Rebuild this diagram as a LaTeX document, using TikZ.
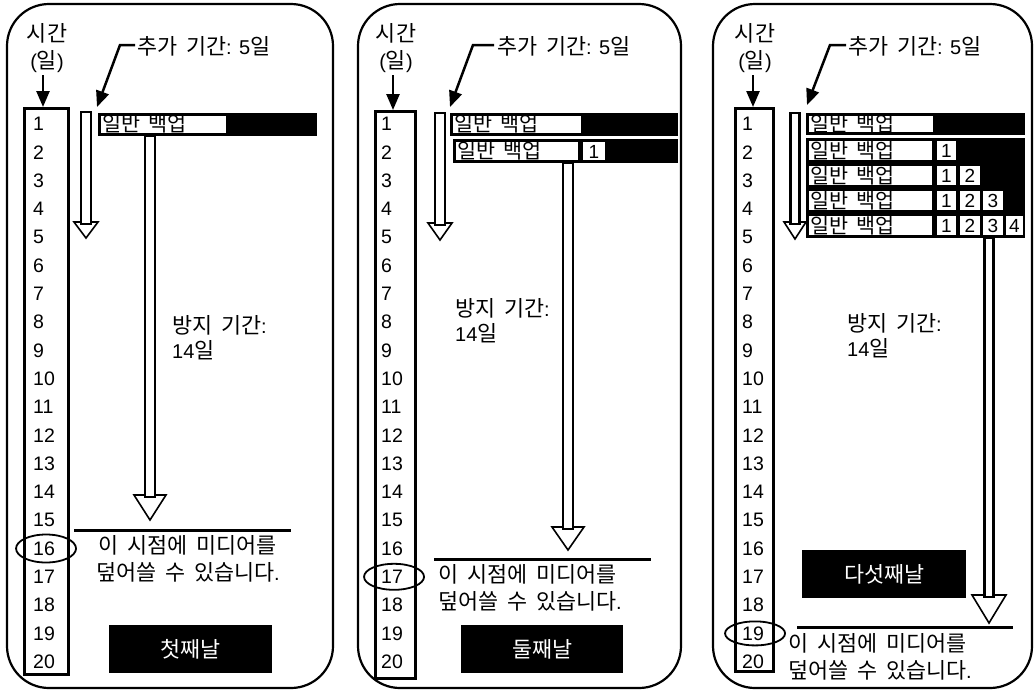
\documentclass[tikz,border=0pt]{standalone}
\usepackage{fontspec}
\setmainfont{Liberation Sans}
\newfontfamily\kr[Scale=1.09,WordSpace=1.8]{Noto Sans CJK KR}
\usetikzlibrary{arrows.meta}
\newcommand{\K}[1]{{\kr #1}}
% hollow arrow: cx, ytop, ybase, half shaft, half head, ytip
\newcommand{\hollowarrow}[6]{%
  \draw[line width=1.6pt, fill=white, line join=miter] (#1-#5,#3) -- (#1+#5,#3) -- (#1,#6) -- cycle;
  \draw[line width=2.6pt, fill=white] (#1-#4,#2) rectangle (#1+#4,#3+2);
}
% bar: x0, y0, x1, y1, xwhite-end
\newcommand{\bkbar}[5]{%
  \fill[black] (#1,#2) rectangle (#3,#4);
  \fill[white] (#1+3,#2+3) rectangle (#5,#4-3);
}
% cell: x0, x1, y0, y1, digit
\newcommand{\bkcell}[5]{%
  \fill[white] (#1,#3+3) rectangle (#2,#4-3);
  \node[inner sep=0, font=\fontsize{19}{22}\selectfont] at ({(#1+#2)/2},{(#3+#4)/2+0.5}) {#5};
}
\begin{document}
\begin{tikzpicture}[x=1pt,y=-1pt,
  panel/.style={draw, line width=2.2pt, rounded corners=42pt},
  colbox/.style={draw, line width=3pt, anchor=north west, inner sep=0},
  num/.style={anchor=west, inner sep=0, font=\fontsize{19.5}{22}\selectfont},
  txt/.style={inner sep=0, font=\fontsize{20}{27}\selectfont},
  ptr/.style={line width=2.5pt, -{Triangle[length=16pt,width=13pt]}},
  sepline/.style={line width=3pt},
  ring/.style={line width=1.8pt},
  daybox/.style={fill=black, text=white, anchor=north west, inner sep=0, font=\fontsize{20}{22}\selectfont},
  bartxt/.style={anchor=west, inner sep=0, font=\fontsize{19}{22}\selectfont}]
\useasboundingbox (0,0) rectangle (1035,691);

% ---------- panels ----------
\draw[panel] (7,4) rectangle (333,688);
\draw[panel] (358,4) rectangle (681,688);
\draw[panel] (713,4) rectangle (1032,688);

% ---------- columns ----------
\node[colbox, minimum width=44, minimum height=566] (col1) at (23,107) {};
\node[colbox, minimum width=40, minimum height=567] (col2) at (374,110) {};
\node[colbox, minimum width=38, minimum height=563] (col3) at (734,107) {};
\foreach \k in {1,...,20}{
  \node[num] (na\k) at (33,{124+28.3*(\k-1)}) {\k};
  \node[num] (nb\k) at (381,{124+28.3*(\k-1)}) {\k};
  \node[num] (nc\k) at (742,{124+28.3*(\k-1)}) {\k};
}

% ---------- time labels ----------
\node[txt, align=center] (t1) at (47,48.5) {\K{시간}\\(\K{일})};
\node[txt, align=center] (t2) at (396,48.5) {\K{시간}\\(\K{일})};
\node[txt, align=center] (t3) at (755,48.5) {\K{시간}\\(\K{일})};
\coordinate (ta1) at (43,75);
\coordinate (ta2) at (393,75);
\coordinate (ta3) at (753,75);
\draw[ptr] (ta1) -- (ta1 |- col1.north);
\draw[ptr] (ta2) -- (ta2 |- col2.north);
\draw[ptr] (ta3) -- (ta3 |- col3.north);

% ---------- extra period labels ----------
\node[txt, anchor=west] (e1) at (137,46) {\K{추가 기간}: 5\K{일}};
\node[txt, anchor=west] (e2) at (497,46) {\K{추가 기간}: 5\K{일}};
\node[txt, anchor=west] (e3) at (848,46) {\K{추가 기간}: 5\K{일}};
\coordinate (k1) at (120,45); \coordinate (h1) at (97,107);
\coordinate (k2) at (473,45); \coordinate (h2) at (450,107);
\coordinate (k3) at (830,45); \coordinate (h3) at (807,105);
\draw[ptr] (e1.west |- k1) ++(-2,0) -- (k1) -- (h1);
\draw[ptr] (e2.west |- k2) ++(-3,0) -- (k2) -- (h2);
\draw[ptr] (e3.west |- k3) ++(-2,0) -- (k3) -- (h3);

% ---------- extra period hollow arrows ----------
\hollowarrow{86}{112}{222}{5}{12}{238}
\hollowarrow{440}{113}{223}{5}{12}{240}
\hollowarrow{795}{113}{222}{4.5}{11}{239}

% ---------- panel 1 bars ----------
\bkbar{98}{113}{317}{136}{226}
\node[bartxt] (g1a) at (102,124) {\K{일반 백업}};
\hollowarrow{150}{136}{495}{5}{16}{520}

% ---------- panel 2 bars ----------
\bkbar{450}{113}{678}{136}{581}
\node[bartxt] (g2a) at (454,124) {\K{일반 백업}};
\bkbar{453}{139}{678}{163}{578}
\node[bartxt] (g2b) at (457,151) {\K{일반 백업}};
\bkcell{583}{605}{139}{163}{1}
\hollowarrow{568}{163}{527}{5}{16}{550}

% ---------- panel 3 bars ----------
\bkbar{806}{113}{1025}{135}{933}
\node[bartxt] (g3a) at (810,124) {\K{일반 백업}};
\fill[black] (806,138) rectangle (1025,238);
\foreach \yt/\yb in {138/163,163/188,188/213,213/238}{
  \fill[white] (809,\yt+3) rectangle (932,\yb-3);
  \node[bartxt] at (810,{(\yt+\yb)/2}) {\K{일반 백업}};
}
\bkcell{937}{956}{138}{163}{1}
\bkcell{937}{956}{163}{188}{1}
\bkcell{960}{980}{163}{188}{2}
\bkcell{937}{956}{188}{213}{1}
\bkcell{960}{980}{188}{213}{2}
\bkcell{983}{1003}{188}{213}{3}
\bkcell{937}{956}{213}{238}{1}
\bkcell{960}{980}{213}{238}{2}
\bkcell{983}{1003}{213}{238}{3}
\bkcell{1006}{1023}{213}{238}{4}
\hollowarrow{989}{238}{595}{4.5}{17}{623}

% ---------- retention labels ----------
\node[txt, align=left, anchor=west, font=\fontsize{20}{25}\selectfont] (r1) at (172,337.5) {\K{방지 기간}:\\14\K{일}};
\node[txt, align=left, anchor=west, font=\fontsize{20}{25}\selectfont] (r2) at (455,320.5) {\K{방지 기간}:\\14\K{일}};
\node[txt, align=left, anchor=west, font=\fontsize{20}{25}\selectfont] (r3) at (847,335.5) {\K{방지 기간}:\\14\K{일}};

% ---------- overwrite lines and text ----------
\coordinate (s1a) at (74,530); \coordinate (s1b) at (291,530);
\coordinate (s2a) at (434,559); \coordinate (s2b) at (651,559);
\coordinate (s3a) at (797,627); \coordinate (s3b) at (1013,627);
\draw[sepline] (s1a) -- (s1b);
\draw[sepline] (s2a) -- (s2b);
\draw[sepline] (s3a) -- (s3b);
\node[txt, align=center] (o1) at (188,558.5) {\K{이 시점에 미디어를}\\\K{덮어쓸 수 있습니다}.};
\node[txt, align=left, anchor=west] (o2) at (438,588) {\K{이 시점에 미디어를}\\\K{덮어쓸 수 있습니다}.};
\node[txt, align=left, anchor=west] (o3) at (788,656.5) {\K{이 시점에 미디어를}\\\K{덮어쓸 수 있습니다}.};

% ---------- rings ----------
\draw[ring] (na16.center) ++(2,0) ellipse [x radius=30, y radius=14];
\draw[ring] (nb17.center) ++(2,0) ellipse [x radius=30, y radius=13];
\draw[ring] (nc19.center) ++(2,0) ellipse [x radius=30, y radius=12];

% ---------- day boxes ----------
\node[daybox, minimum width=163, minimum height=48] (d1) at (109,625) {\K{첫째날}};
\node[daybox, minimum width=162, minimum height=48] (d2) at (461,625) {\K{둘째날}};
\node[daybox, minimum width=164, minimum height=48] (d3) at (802,550) {\K{다섯째날}};
\end{tikzpicture}
\end{document}
